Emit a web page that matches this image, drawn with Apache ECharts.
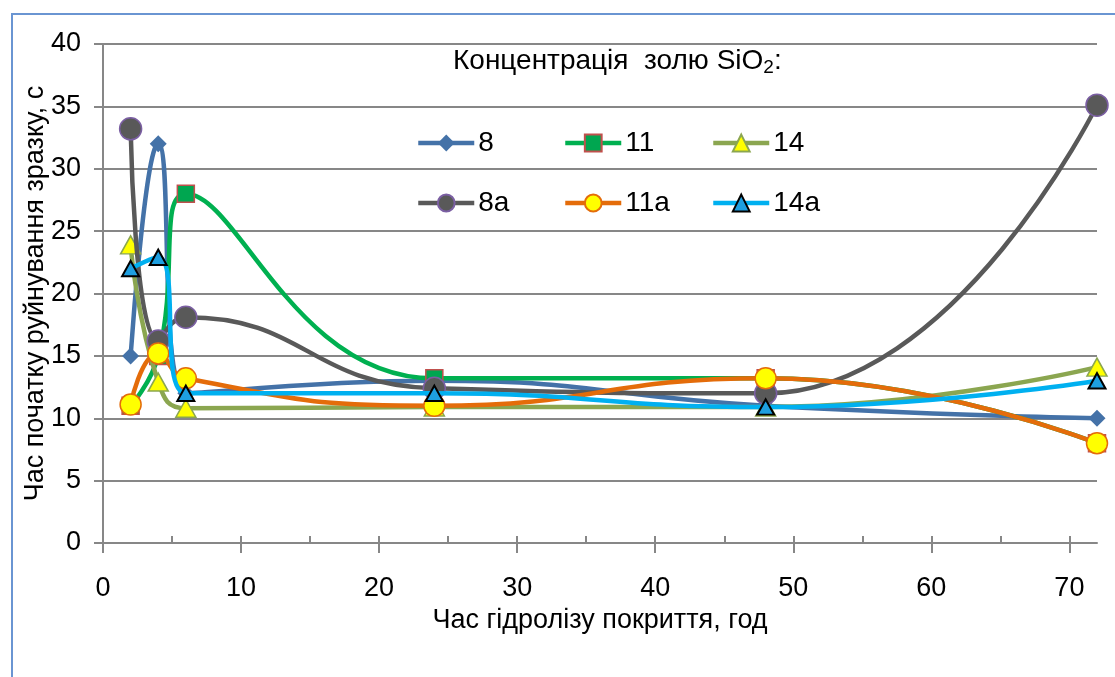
<!DOCTYPE html>
<html>
<head>
<meta charset="utf-8">
<script src="https://cdn.jsdelivr.net/npm/echarts@6/dist/echarts.min.js"></script>
<style>
html,body{margin:0;padding:0;background:#fff;}
#chart{width:1115px;height:677px;}
</style>
</head>
<body>
<div id="chart"></div>
<script>
// ---- data ----
const hours = [2, 4, 6, 24, 48, 72];
const s8   = [15, 32, 12, 13, 11, 10];
const s11  = [11, 15, 28, 13.2, 13.2, 8];
const s14  = [23.9, 12.9, 10.8, 10.9, 10.9, 14.1];
const s8a  = [33.2, 16.2, 18.1, 12.4, 12, 35.1];
const s11a = [11.1, 15.2, 13.2, 11, 13.2, 8];
const s14a = [22, 22.9, 12, 12, 10.9, 13];
const seriesNames = ['8', '11', '14', '8a', '11a', '14a'];
const xMajorTicks = [0, 10, 20, 30, 40, 50, 60, 70];
const xMinorTicks = [0, 5, 10, 15, 20, 25, 30, 35, 40, 45, 50, 55, 60, 65, 70];
const xTitle = 'Час гідролізу покриття, год';
const yTitle = 'Час початку руйнування зразку, с';

const FONT = '"Liberation Sans", Arial, sans-serif';
const GRID = '#878787';

function pairs(arr) { return hours.map((h, i) => [h, arr[i]]); }

const styles = [
  {line: '#4472A8', symbol: 'diamond', size: 17, fill: '#4472A8', border: '#4472A8', bw: 0},
  {line: '#00B050', symbol: 'rect', size: 17, fill: '#00A650', border: '#C0504D', bw: 1.5},
  {line: '#8BA650', symbol: 'triangle', size: 20, fill: '#FFFF00', border: '#8BA650', bw: 1.5},
  {line: '#595959', symbol: 'circle', size: 22, fill: '#595959', border: '#7B5FA3', bw: 1.5},
  {line: '#E46C0A', symbol: 'circle', size: 21, fill: '#FFFF00', border: '#E46C0A', bw: 1.5},
  {line: '#00B0F0', symbol: 'triangle', size: 17, fill: '#1E9FE0', border: '#000000', bw: 2}
];
const values = [s8, s11, s14, s8a, s11a, s14a];

const series = values.map((v, i) => ({
  name: seriesNames[i],
  type: 'line',
  data: pairs(v),
  smooth: 0.5,
  symbol: styles[i].symbol,
  symbolSize: styles[i].symbol === 'triangle' ? [styles[i].size, styles[i].size * 0.9] : styles[i].size,
  lineStyle: {color: styles[i].line, width: 4.5},
  itemStyle: {color: styles[i].fill, borderColor: styles[i].border, borderWidth: styles[i].bw},
  emphasis: {disabled: true},
  z: 2 + i
}));

const legendPos = [
  [416, 129], [563, 129], [711, 129],
  [416, 189], [563, 189], [711, 189]
];
const legends = seriesNames.map((n, i) => ({
  data: [n],
  left: legendPos[i][0],
  top: legendPos[i][1],
  padding: 0,
  itemWidth: 56,
  itemHeight: 21,
  itemGap: 0,
  selectedMode: false,
  lineStyle: {width: 4.5},
  textStyle: {fontFamily: FONT, fontSize: 28, color: '#000', padding: [0, 0, 0, -1]}
}));

const chart = echarts.init(document.getElementById('chart'), null, {renderer: 'canvas'});
chart.setOption({
  backgroundColor: '#fff',
  animation: false,
  title: {
    text: '{a|Концентрація  золю SiO}{s|2}{a|:}',
    left: 453,
    top: 45,
    padding: 0,
    textStyle: {
      fontWeight: 'normal',
      rich: {
        a: {fontFamily: FONT, fontSize: 28, fontWeight: 'normal', color: '#000', lineHeight: 32},
        s: {fontFamily: FONT, fontSize: 19, fontWeight: 'normal', color: '#000', lineHeight: 19, padding: [14, 0, 0, 0], verticalAlign: 'bottom'}
      }
    }
  },
  legend: legends,
  grid: {left: 103, right: 18, top: 44, bottom: 134, containLabel: false},
  xAxis: [
    {
      type: 'value', min: 0, max: 72, interval: 10,
      name: xTitle, nameLocation: 'middle', nameGap: 64, nameMoveOverlap: false,
      nameTextStyle: {fontFamily: FONT, fontSize: 27, color: '#000'},
      axisLine: {show: true, lineStyle: {color: GRID, width: 2}},
      axisTick: {show: true, customValues: xMajorTicks, length: 10, lineStyle: {color: GRID, width: 2}},
      axisLabel: {customValues: xMajorTicks, fontFamily: FONT, fontSize: 27, color: '#000', margin: 32},
      splitLine: {show: false}
    },
    {
      type: 'value', min: 0, max: 72, position: 'bottom',
      axisLine: {show: false},
      axisTick: {show: true, inside: true, customValues: xMinorTicks, length: 7, lineStyle: {color: GRID, width: 2}},
      axisLabel: {show: false},
      splitLine: {show: false}
    }
  ],
  yAxis: {
    type: 'value', min: 0, max: 40, interval: 5,
    name: yTitle, nameLocation: 'middle', nameGap: 54, nameMoveOverlap: false,
    nameTextStyle: {fontFamily: FONT, fontSize: 27, color: '#000'},
    axisLine: {show: true, lineStyle: {color: GRID, width: 2}},
    axisTick: {show: true, length: 9, lineStyle: {color: GRID, width: 2}},
    axisLabel: {fontFamily: FONT, fontSize: 27, color: '#000', margin: 22},
    splitLine: {show: true, lineStyle: {color: GRID, width: 2}}
  },
  graphic: [{
    type: 'rect',
    shape: {x: 12, y: 14, width: 1200, height: 800},
    style: {fill: 'none', stroke: '#6A95D2', lineWidth: 2},
    silent: true, z: -10
  }],
  series: series
});
</script>
</body>
</html>
